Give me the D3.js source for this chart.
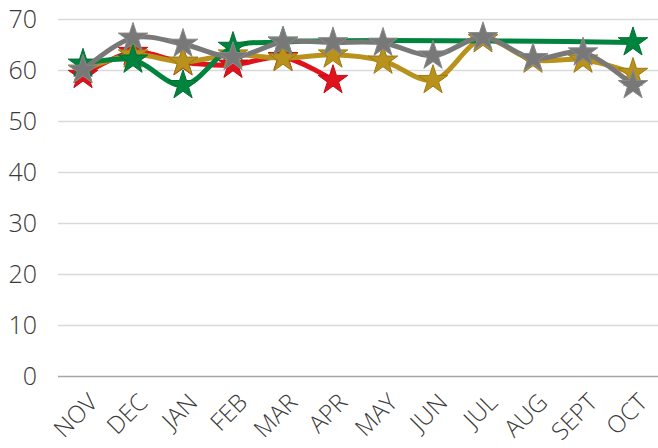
<!DOCTYPE html>
<html lang="en">
<head>
    <meta charset="utf-8">
    <title>Monthly scores</title>
    <script src="https://cdn.jsdelivr.net/npm/d3@7/dist/d3.min.js"></script>
    <style>
        body { margin: 0; background: #fff; }
        text { font-family: "Open Sans", "Segoe UI", sans-serif; fill: #3a3a3a; }
    </style>
</head>
<body>
<script type="text/javascript">
    var months = ["NOV", "DEC", "JAN", "FEB", "MAR", "APR", "MAY", "JUN", "JUL", "AUG", "SEPT", "OCT"];
    var yTicks = [0, 10, 20, 30, 40, 50, 60, 70];

    // null = no value for that month
    var redValues   = [59, 63.5, 61.5, 61, 62.5, 58, null, null, null, null, null, null];
    var goldValues  = [60, 63, 61.6, 63, 62.3, 63, 61.8, 58, 66, 62, 62, 59.4];
    var greenValues = [61.2, 62, 57, 64.5, 65.5, null, null, null, null, null, null, 65.4];
    var grayValues  = [60, 66.3, 65.1, 62.5, 65.5, 65.4, 65.3, 62.8, 66.4, 62.3, 63.4, 57];

    var seriesColors = ["#e0121d", "#b8921c", "#00843d", "#787878"];
    var seriesEdges  = ["#c20d17", "#9c7b12", "#006f33", "#8a8a8a"];

    var width = 658, height = 448;
    var margin = { left: 58, right: 0, top: 19, bottom: 72 };

    var svg = d3.select("body").append("svg")
            .attr("width", width)
            .attr("height", height);

    var x = d3.scaleBand()
            .domain(months)
            .range([margin.left, width - margin.right]);

    var y = d3.scaleLinear()
            .domain([0, 70])
            .range([height - margin.bottom, margin.top]);

    // gridlines
    svg.append("g").selectAll("line")
            .data(yTicks)
            .enter()
            .append("line")
            .attr("x1", margin.left)
            .attr("x2", width - margin.right)
            .attr("y1", function(d) { return Math.round(y(d)) + 0.5; })
            .attr("y2", function(d) { return Math.round(y(d)) + 0.5; })
            .attr("stroke", function(d) { return d === 0 ? "#a6a6a6" : "#d9d9d9"; })
            .attr("stroke-width", 1.5);

    // y labels
    var yAxis = svg.append("g")
            .attr("transform", "translate(37,0)")
            .call(d3.axisLeft(y).tickValues(yTicks).tickSize(0).tickPadding(0));
    yAxis.select(".domain").remove();
    yAxis.selectAll("text")
            .attr("font-size", 25)
            .attr("font-weight", 300)
            .attr("font-family", null)
            .attr("fill", null);

    // x labels
    var xAxis = svg.append("g")
            .attr("transform", "translate(0," + (height - margin.bottom) + ")")
            .call(d3.axisBottom(x).tickSize(0).tickPadding(0));
    xAxis.select(".domain").remove();
    xAxis.selectAll("text")
            .attr("font-size", 24)
            .attr("font-weight", 300)
            .attr("font-family", null)
            .attr("fill", null)
            .attr("text-anchor", "end")
            .attr("y", 0)
            .attr("dy", "0.35em")
            .attr("transform", "translate(10,22) rotate(-45)");

    var allSeries = [redValues, goldValues, greenValues, grayValues];

    var line = d3.line()
            .defined(function(d) { return d.v !== null; })
            .x(function(d) { return x(d.m) + x.bandwidth() / 2; })
            .y(function(d) { return y(d.v); })
            .curve(d3.curveCatmullRom.alpha(0.5));

    var star = d3.symbol().type(d3.symbolStar).size(270);

    allSeries.forEach(function(vals, i) {
        var pts = vals.map(function(v, j) { return { m: months[j], v: v }; })
                .filter(function(d) { return d.v !== null; });
        var g = svg.append("g");

        g.append("path")
                .datum(pts)
                .attr("d", line)
                .attr("fill", "none")
                .attr("stroke", seriesColors[i])
                .attr("stroke-width", 5)
                .attr("stroke-linejoin", "round")
                .attr("stroke-linecap", "round");

        g.selectAll("path.star")
                .data(pts)
                .enter()
                .append("path")
                .attr("class", "star")
                .attr("d", star)
                .attr("transform", function(d) {
                    return "translate(" + (x(d.m) + x.bandwidth() / 2) + "," + y(d.v) + ")";
                })
                .attr("fill", seriesColors[i])
                .attr("stroke", seriesEdges[i])
                .attr("stroke-width", 1);
    });
</script>
</body>
</html>
